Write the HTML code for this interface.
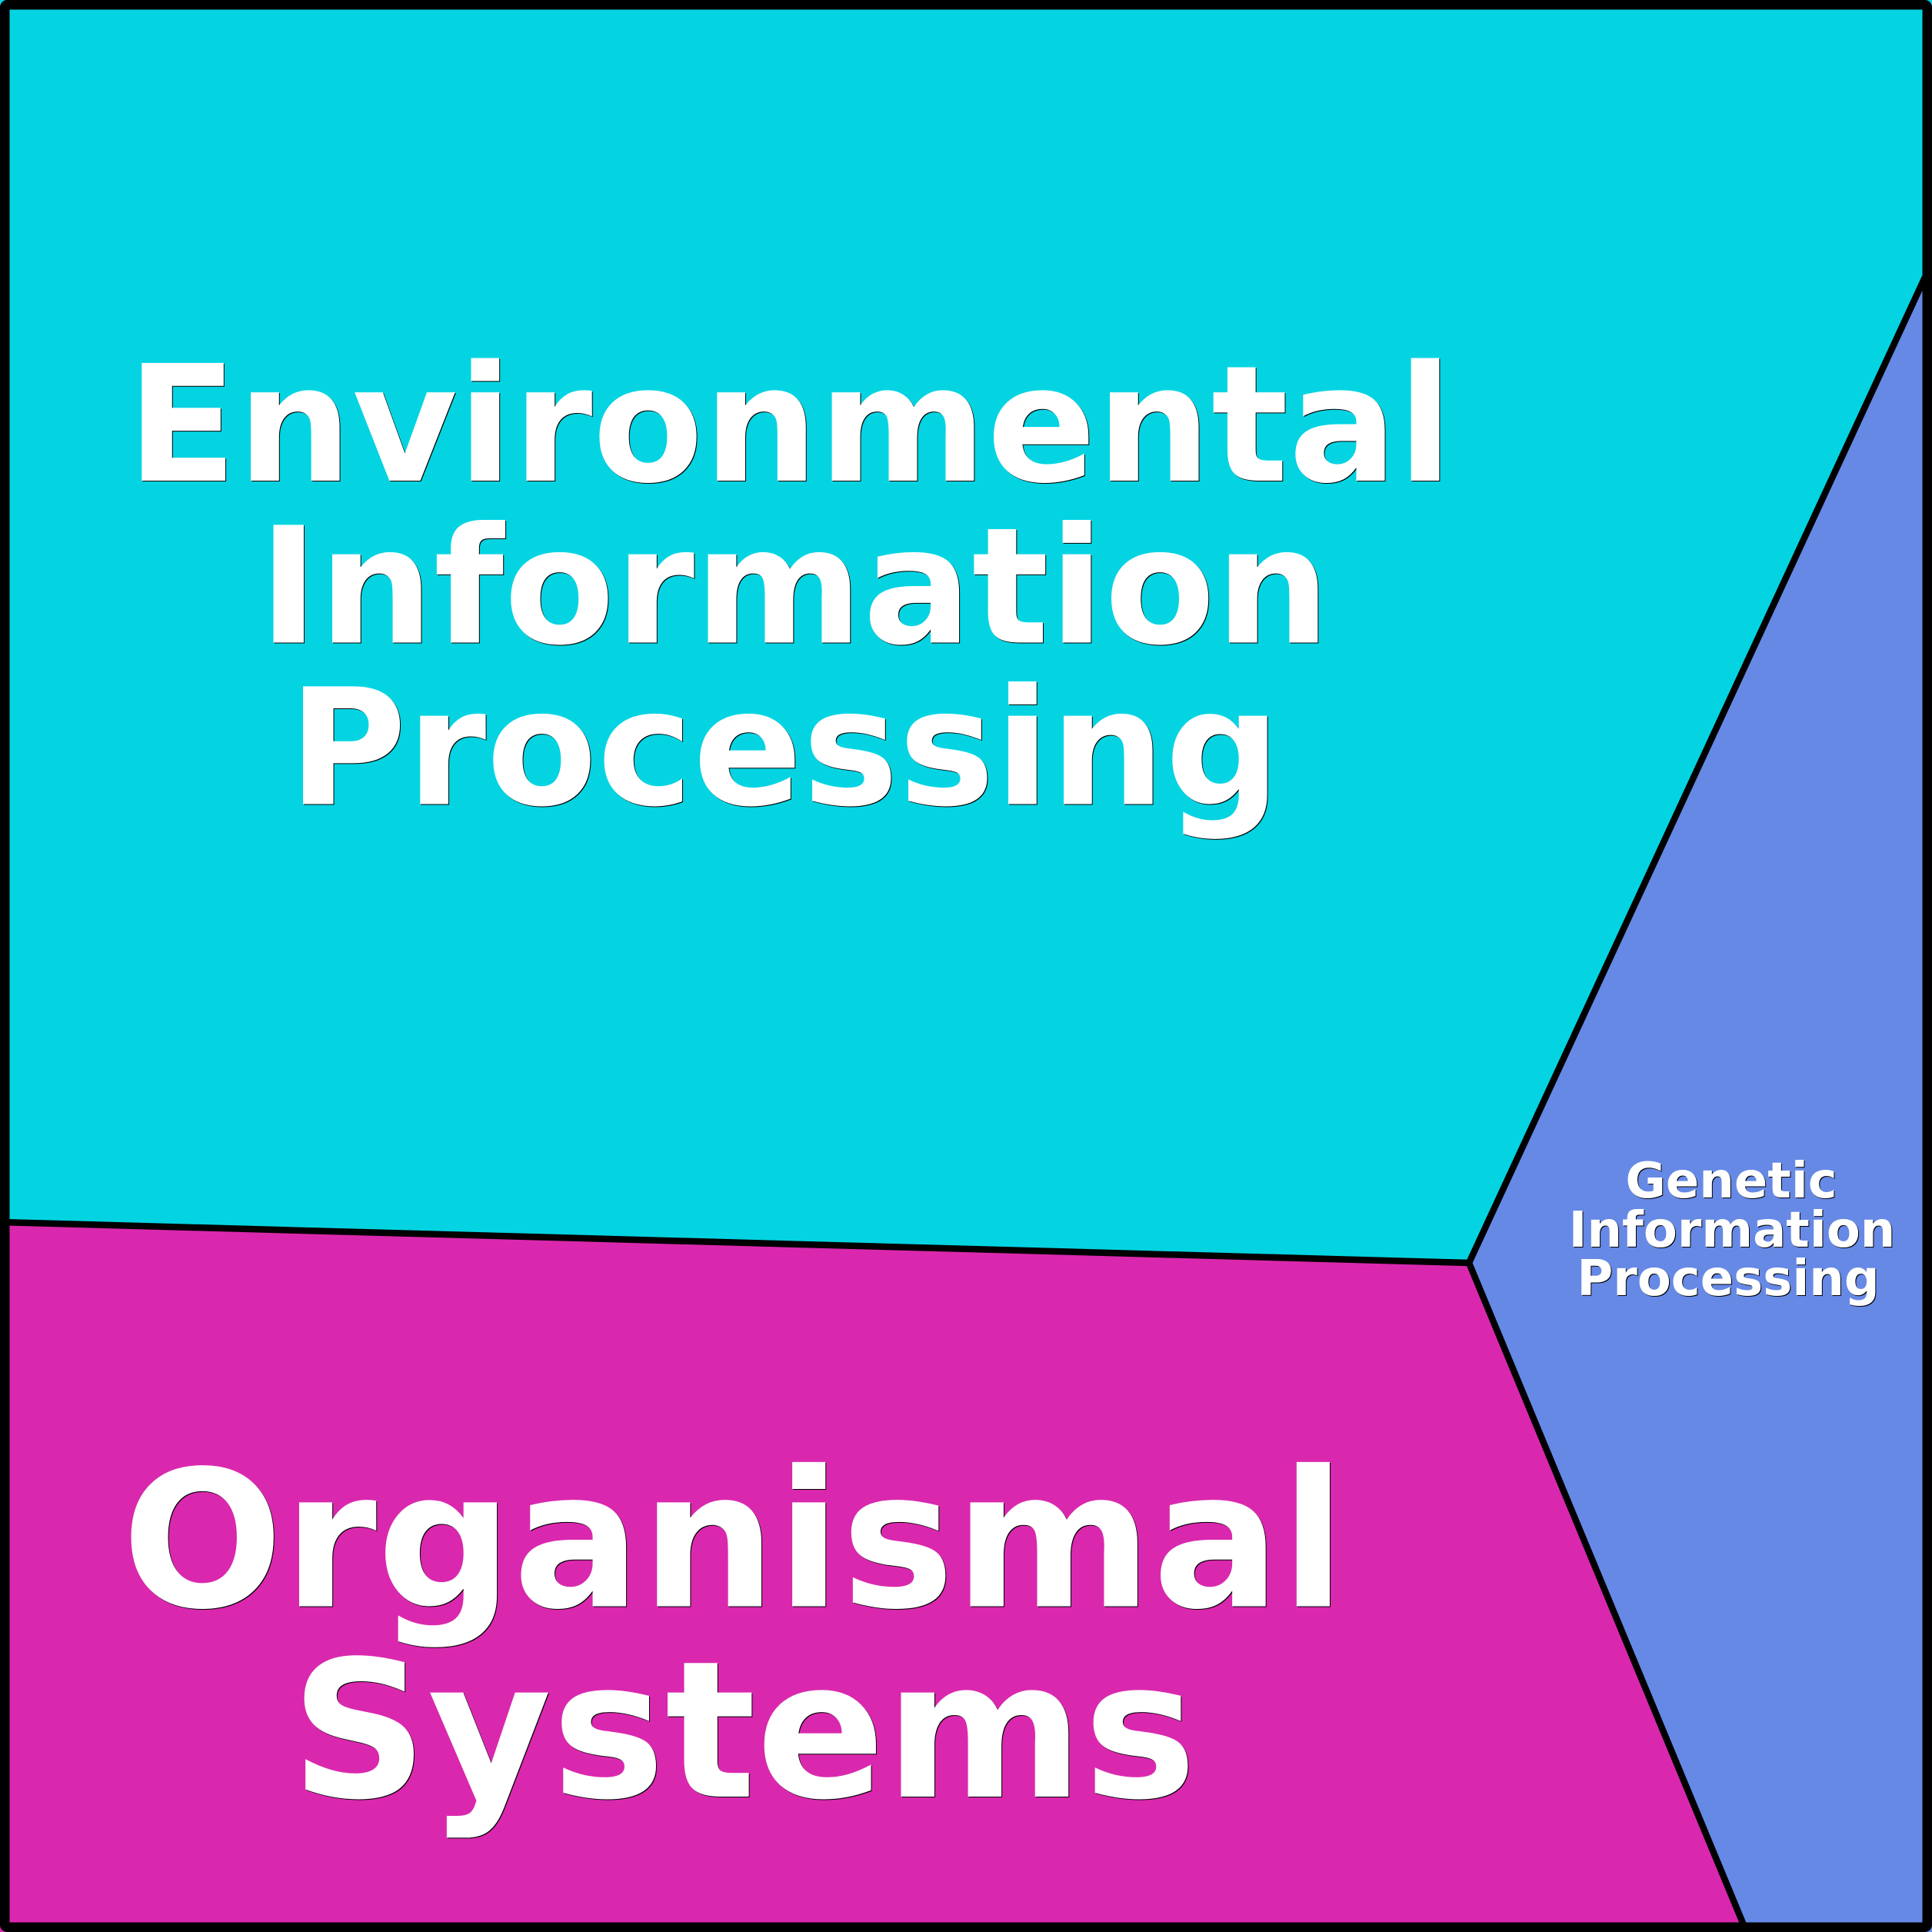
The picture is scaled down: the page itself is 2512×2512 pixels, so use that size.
<!DOCTYPE html>
<html><head><meta charset="utf-8"><style>
html,body{margin:0;padding:0;background:#fff}
svg{display:block}
text{font-family:"DejaVu Sans",sans-serif;font-weight:700;fill:#fff;text-anchor:middle}
.t{filter:drop-shadow(1.5px 1.5px 0 #000)}
</style></head><body>
<svg width="2512" height="2512" viewBox="0 0 2512 2512" xmlns="http://www.w3.org/2000/svg">
<rect width="2512" height="2512" fill="#04d4e2"/>
<polygon points="0,1589 1910,1642 2266,2500 2271,2512 0,2512" fill="#da28ae"/>
<polygon points="2512,341 1910,1642 2271,2512 2512,2512" fill="#6689e6"/>
<g fill="none" stroke="#000" stroke-width="8.5">
<line x1="0" y1="1589" x2="1910" y2="1642"/>
<polyline points="2510,345 1910,1642 2268,2505" stroke-linejoin="round"/>
</g>
<rect x="6.25" y="6.25" width="2499.5" height="2499.5" rx="3" fill="none" stroke="#000" stroke-width="12.5" stroke-linejoin="round"/>
<g class="t">
<text font-size="210" x="1027" y="625">Environmental</text>
<text font-size="210" x="1033" y="835.5">Information</text>
<text font-size="210" x="1020" y="1045.5">Processing</text>
<text font-size="247" x="954" y="2088.5">Organismal</text>
<text font-size="247.5" x="967" y="2336">Systems</text>
</g>
<g class="t" style="filter:drop-shadow(1px 1px 0 #000)">
<text font-size="64" x="2251" y="1557">Genetic</text>
<text font-size="64" x="2252" y="1621">Information</text>
<text font-size="64" x="2247" y="1684">Processing</text>
</g>
</svg>
</body></html>
